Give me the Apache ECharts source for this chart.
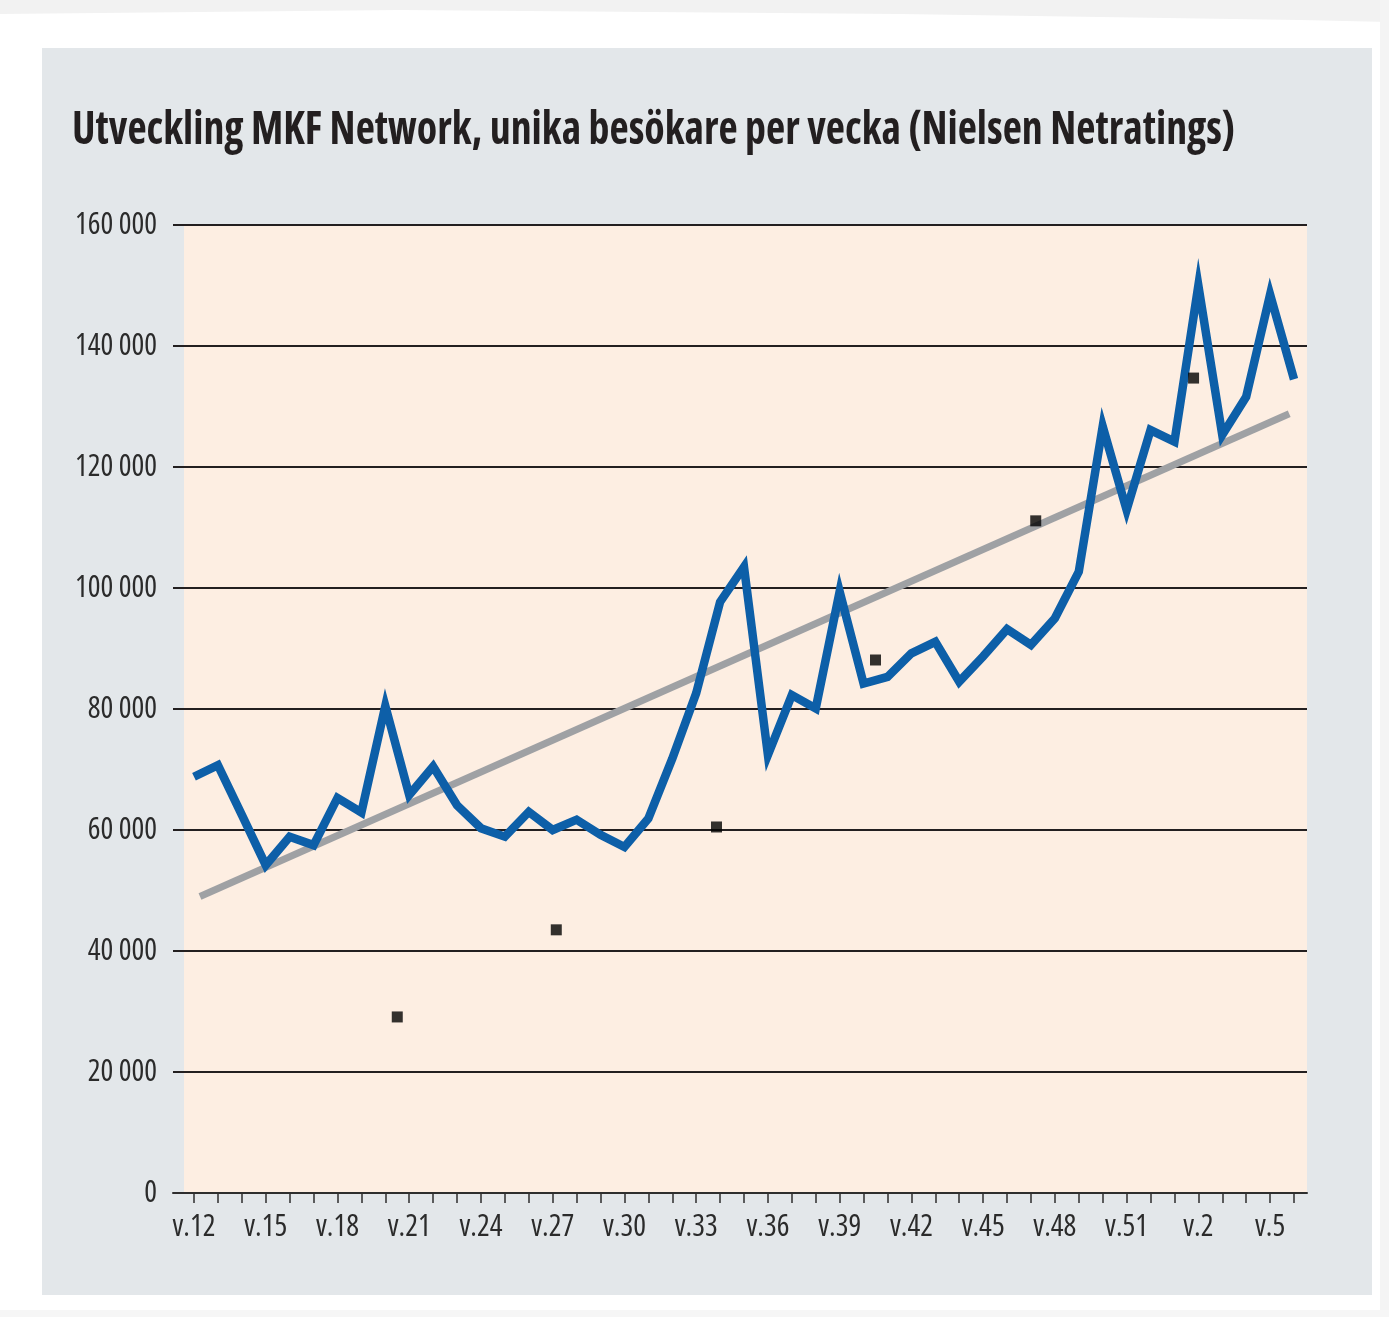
<!DOCTYPE html>
<html>
<head>
<meta charset="utf-8">
<script src="https://cdn.jsdelivr.net/npm/echarts@6/dist/echarts.min.js"></script>
<style>
html,body{margin:0;padding:0;background:#ffffff;}
#chart{width:1389px;height:1317px;}
</style>
</head>
<body>
<div id="chart"></div>
<script>
// Weeks (categories)
const weeks = ['v.12','v.13','v.14','v.15','v.16','v.17','v.18','v.19','v.20','v.21','v.22','v.23','v.24','v.25','v.26','v.27','v.28','v.29','v.30','v.31','v.32','v.33','v.34','v.35','v.36','v.37','v.38','v.39','v.40','v.41','v.42','v.43','v.44','v.45','v.46','v.47','v.48','v.49','v.50','v.51','v.52','v.1','v.2','v.3','v.4','v.5','v.6'];
// Unique visitors per week
const visitors = [68800,70700,62500,54200,58900,57500,65300,62900,80500,65800,70500,64100,60300,58900,63000,60000,61700,59200,57200,61900,71800,82600,97700,103500,72400,82300,80100,99400,84200,85300,89200,91100,84500,88700,93200,90600,95000,102700,126700,112900,126100,124200,150000,125300,131600,148500,134500];
// Separate point markers (position on week scale, value)
const markerPos = [8.5,15.15,21.85,28.5,35.2,41.8];
const markerVal = [29100,43500,60500,88100,111100,134700];
// Trend line endpoints
const trendPos = [0.25,45.8];
const trendVal = [49000,128800];
// Y tick labels
const yTicks = [0,20000,40000,60000,80000,100000,120000,140000,160000];

const TITLE = 'Utveckling MKF Network, unika besökare per vecka (Nielsen Netratings)';
const FAM = "'Open Sans','DejaVu Sans Condensed',sans-serif";
const LBL_W = 'condensed 400';
const TTL_W = 'condensed bold';
const TTL_SIZE = 46;

// measure title to fit its original width
const mctx = document.createElement('canvas').getContext('2d');
mctx.font = 'normal ' + TTL_W + ' ' + TTL_SIZE + 'px ' + FAM;
const titleW = mctx.measureText(TITLE).width || 1163;
const titleScale = 1163 / titleW;

const chart = echarts.init(document.getElementById('chart'));
const fmt = v => v === 0 ? '0' : String(v).replace(/\B(?=(\d{3})+(?!\d))/g, ' ');

chart.setOption({
  backgroundColor: '#ffffff',
  animation: false,
  graphic: [
    {type:'polygon', shape:{points:[[0,0],[1389,0],[1389,22],[1300,20],[900,14],[400,10],[0,14]]}, style:{fill:'#f2f2f2'}, z:-20},
    {type:'rect', shape:{x:1380,y:0,width:9,height:1317}, style:{fill:'#f4f4f4'}, z:-20},
    {type:'rect', shape:{x:0,y:1310,width:1389,height:7}, style:{fill:'#f6f6f6'}, z:-20},
    {type:'rect', shape:{x:42,y:48,width:1330,height:1247}, style:{fill:'#e3e7ea'}, z:-10},
    {type:'text', x:72, y:131, scaleX:titleScale, scaleY:1, z:10,
     style:{text:TITLE, fontFamily:FAM, fontWeight:TTL_W, fontSize:TTL_SIZE, fill:'#231f20',
            textAlign:'left', textVerticalAlign:'middle', verticalAlign:'middle'}}
  ],
  grid: [
    {left:184, right:82, top:225, bottom:124, show:true, backgroundColor:'#fdeee2', borderWidth:0},
    {left:173, right:82, top:225, bottom:124},
    {left:194, right:95, top:225, bottom:124}
  ],
  xAxis: [
    {gridIndex:0, type:'value', min:0, max:1, show:false},
    {gridIndex:1, type:'value', min:0, max:1,
     axisLine:{show:true, onZero:false, lineStyle:{color:'#2e2e2e', width:2}},
     axisTick:{show:false}, axisLabel:{show:false}, splitLine:{show:false}},
    {gridIndex:2, type:'value', min:0, max:weeks.length-1, interval:1,
     axisLine:{show:false},
     axisTick:{show:true, length:10, lineStyle:{color:'#2e2e2e', width:1.5}},
     axisLabel:{show:true, margin:19, fontFamily:FAM, fontWeight:LBL_W, fontSize:30, color:'#2b2b2b',
       formatter: v => (v % 3 === 0 && weeks[v]) ? weeks[v] : ''},
     splitLine:{show:false}}
  ],
  yAxis: [
    {gridIndex:0, type:'value', min:0, max:1, show:false},
    {gridIndex:1, type:'value', min:yTicks[0], max:yTicks[yTicks.length-1], interval:20000,
     axisLine:{show:false}, axisTick:{show:false},
     axisLabel:{margin:16, fontFamily:FAM, fontWeight:LBL_W, fontSize:30, color:'#2b2b2b', formatter: fmt},
     splitLine:{show:true, lineStyle:{color:'#231f20', width:2}}},
    {gridIndex:2, type:'value', min:0, max:160000, show:false}
  ],
  series: [
    {
      type:'line', xAxisIndex:2, yAxisIndex:2, z:3,
      data: trendPos.map((p,i)=>[p, trendVal[i]]),
      symbol:'none', lineStyle:{color:'#9fa1a4', width:7, cap:'butt'}
    },
    {
      type:'line', xAxisIndex:2, yAxisIndex:2, z:5,
      data: visitors.map((v,i)=>[i, v]),
      symbol:'none', lineStyle:{color:'#0d5fa8', width:8.5, join:'miter'}
    },
    {
      type:'scatter', xAxisIndex:2, yAxisIndex:2, z:6,
      data: markerPos.map((p,i)=>[p, markerVal[i]]),
      symbol:'rect', symbolSize:11, itemStyle:{color:'#000000'}
    }
  ]
});
</script>
</body>
</html>
